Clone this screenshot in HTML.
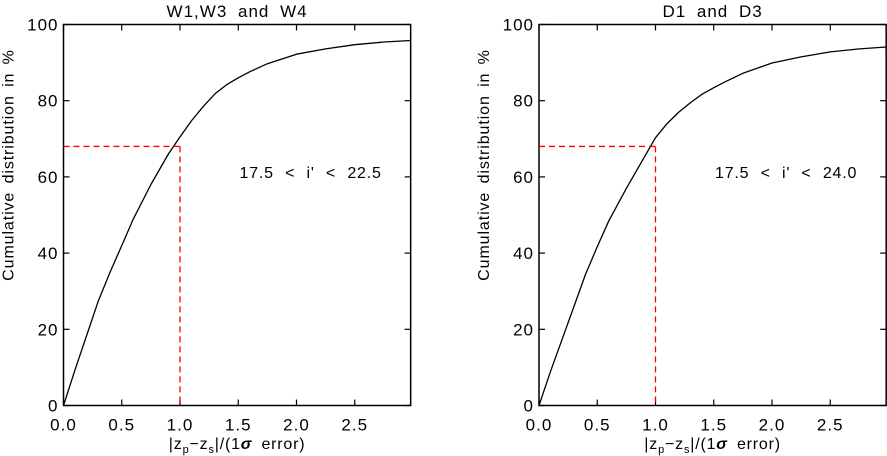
<!DOCTYPE html>
<html><head><meta charset="utf-8"><style>
html,body{margin:0;padding:0;background:#fff;}
svg{display:block;font-family:"Liberation Sans",sans-serif;}
</style></head><body>
<svg id="fig" width="887" height="456" viewBox="0 0 887 456"></svg>
<script>
const xTicks=[0,0.5,1.0,1.5,2.0,2.5];
const xTickLabels=["0.0","0.5","1.0","1.5","2.0","2.5"];
const yTicks=[0,20,40,60,80,100];
const yTickLabels=["0","20","40","60","80","100"];
const xValues=[0,0.1,0.2,0.3,0.4,0.5,0.6,0.75,0.9,1.0,1.1,1.2,1.3,1.4,1.5,1.6,1.75,2.0,2.25,2.5,2.75,2.98];
const leftValues=[0,9.5,18.5,27.5,35,42,49,58,66,70.5,74.8,78.5,81.8,84.2,86,87.6,89.7,92.2,93.6,94.7,95.4,95.8];
const rightValues=[0,9,17.5,26,34.5,41.7,48.5,57,65,70.3,74,77,79.5,81.7,83.4,85,87.2,89.9,91.5,92.8,93.6,94.1];
const refX=1.0, refY=68;
const panels=[
 {name:"left",title:"W1,W3 and W4",label:"17.5 < i' < 22.5",x0:63.5,values:leftValues},
 {name:"right",title:"D1 and D3",label:"17.5 < i' < 24.0",x0:539,values:rightValues}
];
const NS="http://www.w3.org/2000/svg";
const svg=document.getElementById('fig');
function mk(tag,attrs,parent){const e=document.createElementNS(NS,tag);for(const k in attrs)e.setAttribute(k,attrs[k]);(parent||svg).appendChild(e);return e;}
const pxPerUnit=116.5, yTop=24.5, yBottom=405.5, xmax=2.98;
panels.forEach(p=>{
  const g=mk('g',{});
  
  
  const X=v=>p.x0+v*pxPerUnit;
  const Y=v=>yBottom-(v/100)*(yBottom-yTop);
  const x1=X(xmax);
  const frame=mk('rect',{x:p.x0,y:yTop,width:x1-p.x0,height:yBottom-yTop,fill:'none',stroke:'#000','stroke-width':1.5},g);
  
  
  xTicks.forEach((t,i)=>{
    const x=X(t);
    mk('line',{x1:x,y1:yBottom,x2:x,y2:yBottom-6,stroke:'#000','stroke-width':1.2},g);
    mk('line',{x1:x,y1:yTop,x2:x,y2:yTop+6,stroke:'#000','stroke-width':1.2},g);
    const tx=mk('text',{x:x,y:yBottom+25,'font-size':17,'letter-spacing':1,'text-anchor':'middle'},g);
    tx.textContent=xTickLabels[i];
    
    
  });
  yTicks.forEach((t,i)=>{
    const y=Y(t);
    mk('line',{x1:p.x0,y1:y,x2:p.x0+6,y2:y,stroke:'#000','stroke-width':1.2},g);
    mk('line',{x1:x1,y1:y,x2:x1-6,y2:y,stroke:'#000','stroke-width':1.2},g);
    const tx=mk('text',{x:p.x0-5,y:y+6,'font-size':17,'letter-spacing':1,'text-anchor':'end'},g);
    tx.textContent=yTickLabels[i];
    
    
  });
  const title=mk('text',{x:(p.x0+x1)/2,y:17,'font-size':17,'letter-spacing':1,'word-spacing':5,'text-anchor':'middle'},g);
  title.textContent=p.title;
  
  
  const xl=mk('text',{x:(p.x0+x1)/2,y:449,'font-size':16,'letter-spacing':0.8,'word-spacing':4,'text-anchor':'middle'},g);
  xl.innerHTML='|z<tspan font-size="11" dy="4">p</tspan><tspan dy="-4">−z</tspan><tspan font-size="11" dy="4">s</tspan><tspan dy="-4">|/(1</tspan><tspan font-style="italic" font-weight="bold">σ</tspan> error)';
  
  
  const yl=mk('text',{x:0,y:0,'font-size':16,'letter-spacing':0.9,'word-spacing':3,'text-anchor':'middle',transform:`translate(${p.x0-50},${(yTop+yBottom)/2-50}) rotate(-90)`},g);
  yl.textContent='Cumulative distribution in %';
  
  
  const d=p.values.map((v,i)=>(i?'L':'M')+X(xValues[i]).toFixed(1)+','+Y(v).toFixed(1)).join(' ');
  const line=mk('path',{d:d,fill:'none',stroke:'#000','stroke-width':1.3,'stroke-linejoin':'round'},g);
  
  
  const h=mk('line',{x1:X(0),y1:Y(refY),x2:X(refX),y2:Y(refY),stroke:'#f00','stroke-width':1.3,'stroke-dasharray':'6,4'},g);
  
  
  const v=mk('line',{x1:X(refX),y1:Y(refY),x2:X(refX),y2:Y(0),stroke:'#f00','stroke-width':1.3,'stroke-dasharray':'6,4'},g);
  
  
  const ann=mk('text',{x:p.x0+176,y:178,'font-size':16,'letter-spacing':0.8,'word-spacing':6},g);
  ann.textContent=p.label;
  
  
});
</script>
</body></html>
